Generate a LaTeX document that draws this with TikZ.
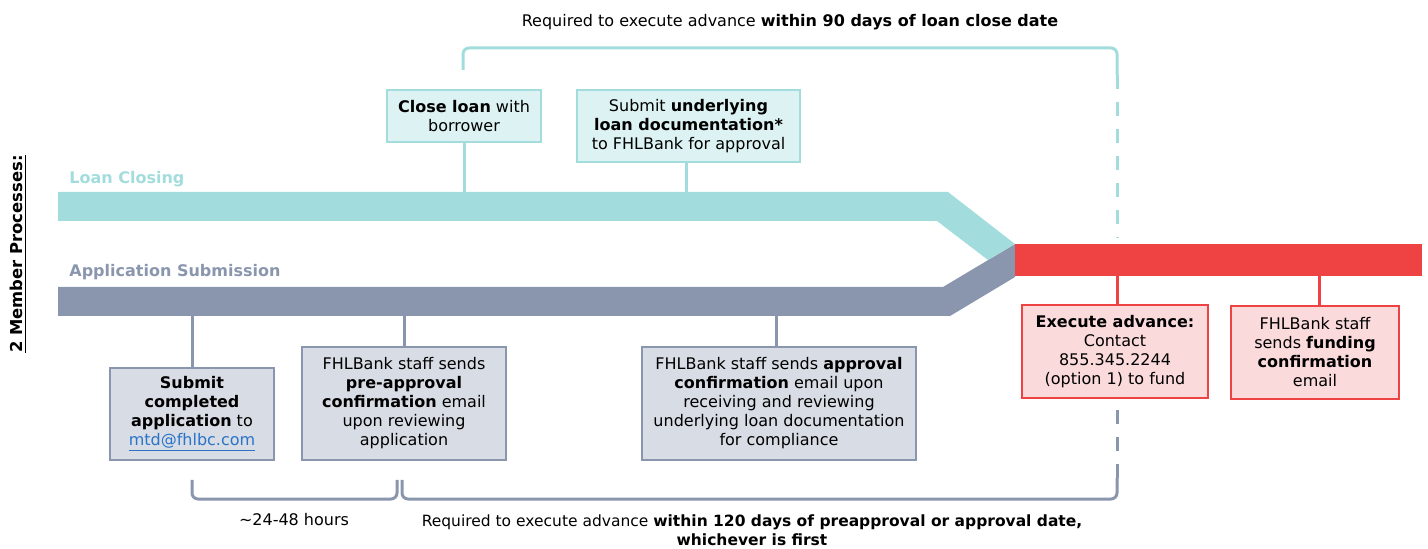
\documentclass[tikz,border=0pt]{standalone}
\usepackage{fontspec}
\setmainfont{DejaVu Sans}
\usepackage{tikz}
\usetikzlibrary{calc}
\definecolor{LcTeal}{HTML}{A3DCDC}
\definecolor{LcFill}{HTML}{DDF2F2}
\definecolor{AsGray}{HTML}{8A96AE}
\definecolor{AsFill}{HTML}{D8DCE4}
\definecolor{ExRed}{HTML}{EF4242}
\definecolor{ExFill}{HTML}{FBDADC}
\definecolor{MailBlue}{HTML}{2A74C8}

\begin{document}
\begin{tikzpicture}[x=0.5pt, y=-0.5pt]

% Picture frame (pixel grid, y down)
\useasboundingbox (0,0) rectangle (1428,549);

% Text styles
\tikzset{txt/.style={font=\fontsize{8}{9.5}\selectfont, align=center, inner sep=0pt}}
\tikzset{btxt/.style={txt, font=\fontsize{8}{9.5}\selectfont\bfseries}}

% Box styles
\tikzset{box/.style={txt, draw, line width=1pt}}
\tikzset{lcB/.style={box, draw=LcTeal, fill=LcFill}}
\tikzset{asB/.style={box, draw=AsGray, fill=AsFill}}
\tikzset{exB/.style={box, draw=ExRed, fill=ExFill}}

% Line styles
\tikzset{lcL/.style={LcTeal, line width=1.5pt}}
\tikzset{asL/.style={AsGray, line width=1.5pt}}
\tikzset{exL/.style={ExRed, line width=1.5pt}}
\tikzset{gap/.style={dash pattern=on 7pt off 6.5pt}}

% Process bars
\fill[AsGray] (58,287) -- (943,287) -- (1015,244) -- (1015,277) -- (950,316) -- (58,316) -- cycle;
\fill[LcTeal] (58,192) -- (948,192) -- (1015,244) -- (988,260) -- (937,221) -- (58,221) -- cycle;
\fill[ExRed] (1015,244) rectangle (1422,276);

\coordinate (lcbar) at (0,192);
\coordinate (asbar) at (0,316);
\coordinate (exbar) at (0,276);

% Bar labels
\node (members) [btxt, font=\fontsize{8.2}{9.5}\selectfont\bfseries, rotate=90] at (18,254) {\underline{2 Member Processes:}};
\node (lclabel) [btxt, text=LcTeal, anchor=base west] at (69,184) {Loan Closing};
\node (aslabel) [btxt, text=AsGray, anchor=base west] at (69,277) {Application Submission};

% Loan closing steps
\node (closeloan) [lcB, minimum width=77pt, minimum height=26pt] at (464,116) {\textbf{Close loan} with\\borrower};
\node (underlying) [lcB, minimum width=111.5pt, minimum height=36pt] at (688.5,126) {Submit \textbf{underlying}\\\textbf{loan documentation*}\\to FHLBank for approval};

% Application steps
\node (completed) [asB, minimum width=82pt, minimum height=46pt] at (192,414) {\textbf{Submit}\\\textbf{completed}\\\textbf{application} to\\\textcolor{MailBlue}{\underline{mtd@fhlbc.com}}};
\node (preapproval) [asB, minimum width=102pt, minimum height=56.5pt] at (404,403.5) {FHLBank staff sends\\\textbf{pre-approval}\\\textbf{confirmation} email\\upon reviewing\\application};
\node (approval) [asB, minimum width=137pt, minimum height=56.5pt] at (779,403.5) {FHLBank staff sends \textbf{approval}\\\textbf{confirmation} email upon\\receiving and reviewing\\underlying loan documentation\\for compliance};

% Advance steps
\node (execute) [exB, minimum width=93pt, minimum height=46.5pt] at (1115,351.5) {\textbf{Execute advance:}\\Contact\\855.345.2244\\(option 1) to fund};
\node (funding) [exB, minimum width=84pt, minimum height=46.5pt] at (1315,352.5) {FHLBank staff\\sends \textbf{funding}\\\textbf{confirmation}\\email};

% Step connectors
\draw[lcL] (closeloan.south) -- (closeloan.south |- lcbar);
\draw[lcL] ($(underlying.south)+(-2,0)$) -- ($(underlying.south |- lcbar)+(-2,0)$);
\draw[asL] (completed.north) -- (completed.north |- asbar);
\draw[asL] (preapproval.north) -- (preapproval.north |- asbar);
\draw[asL] ($(approval.north)+(-3,0)$) -- ($(approval.north |- asbar)+(-3,0)$);
\draw[exL] ($(execute.north)+(2,0)$) -- ($(execute.north |- exbar)+(2,0)$);
\draw[exL] ($(funding.north)+(4,0)$) -- ($(funding.north |- exbar)+(4,0)$);

% 90 day bracket
\coordinate (d90a) at ($(closeloan.north)+(-1,-19)$);
\coordinate (d90b) at (1117,48);
\coordinate (d90c) at (1117,75);
\coordinate (d90d) at (1117,238);
\draw[lcL, rounded corners=3pt] (d90a) |- (d90b) -- (d90c);
\draw[lcL, gap] (d90c) -- (d90d);
\node (top90) [txt, anchor=base] at (790,27) {Required to execute advance \textbf{within 90 days of loan close date}};

% 24-48 hour bracket
\coordinate (h24a) at (192,480);
\coordinate (h24b) at (397,499);
\coordinate (h24c) at (397,480);
\draw[asL, rounded corners=3pt] (h24a) |- (h24b) -- (h24c);
\node (hours) [txt, anchor=base] at (294,525) {\textasciitilde24-48 hours};

% 120 day bracket
\coordinate (d120a) at (402,480);
\coordinate (d120b) at (1117,499);
\coordinate (d120c) at (1117,478);
\draw[asL, rounded corners=3pt] (d120a) |- (d120b) -- (d120c);
\draw[asL, gap] (d120c) -- (d120c |- execute.south);
\node (bottom120) [txt, font=\fontsize{7.75}{9.5}\selectfont, anchor=north] at (752,514) {Required to execute advance \textbf{within 120 days of preapproval or approval date,}\\\textbf{whichever is first}};

\end{tikzpicture}
\end{document}
